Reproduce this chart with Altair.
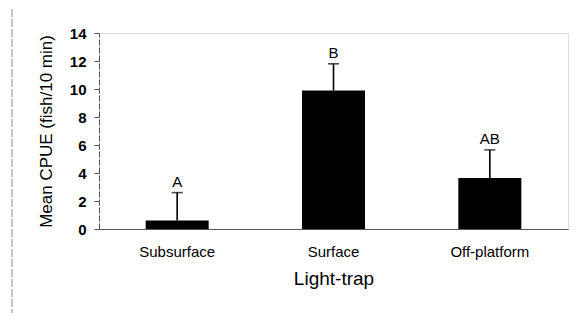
import altair as alt
import pandas as pd

categories = ["Subsurface", "Surface", "Off-platform"]
means = [0.6, 9.9, 3.65]
upper = [2.6, 11.8, 5.65]
letters = ["A", "B", "AB"]
yticks = [0, 2, 4, 6, 8, 10, 12, 14]

df = pd.DataFrame({"trap": categories, "mean": means, "upper": upper, "letter": letters})

FONT = "Liberation Sans"
xaxis = alt.Axis(labelAngle=0, ticks=False, labelPadding=15, titlePadding=10,
                 labelFontSize=15, titleFontSize=19, labelFont=FONT, titleFont=FONT,
                 labelColor="black", titleColor="black", titleFontWeight="normal",
                 domainColor="#555", domainWidth=1.2)
xscale = alt.Scale(paddingInner=0, paddingOuter=0)
yscale = alt.Scale(domain=[0, 14], nice=False)
yaxis = alt.Axis(values=yticks, grid=False, tickSize=5, tickColor="#555",
                 labelOverlap=False,
                 domainColor="#555", domainDash=[6, 2], labelFontSize=15, labelFontWeight="bold",
                 titleFontSize=17, labelFont=FONT, titleFont=FONT, labelPadding=8,
                 titlePadding=14, labelColor="black", titleColor="black",
                 titleFontWeight="normal")


def X():
    return alt.X("trap:N", sort=categories, title="Light-trap", scale=xscale, axis=xaxis)


def Y(field):
    return alt.Y(field, scale=yscale, title="Mean CPUE (fish/10 min)", axis=yaxis)


base = alt.Chart(df)
bars = base.mark_bar(color="black", size=63).encode(x=X(), y=Y("mean:Q"))
rules = base.mark_rule(color="black", strokeWidth=1.6).encode(
    x=X(), y=Y("mean:Q"), y2="upper:Q")
caps = base.mark_tick(color="black", orient="horizontal", size=11, thickness=1.6).encode(
    x=X(), y=Y("upper:Q"))
labels = base.mark_text(baseline="bottom", dy=-3, fontSize=15, font=FONT, color="black").encode(
    x=X(), y=Y("upper:Q"), text="letter:N")
frame = alt.Chart(pd.DataFrame({"k": [0]})).mark_rect(
    fill=None, stroke="#888", strokeWidth=1, strokeDash=[8, 2]).encode(
    x=alt.value(-87), x2=alt.value(480), y=alt.value(-30), y2=alt.value(320))

chart = alt.layer(frame, bars, rules, caps, labels).properties(
    width=469, height=196,
    autosize=alt.AutoSizeParams(type="none"),
    padding={"left": 91, "top": 25, "right": 8, "bottom": 84},
).configure_view(stroke=None).configure(background="white")

chart.save("out.html", embed_options={"renderer": "svg", "actions": False})
